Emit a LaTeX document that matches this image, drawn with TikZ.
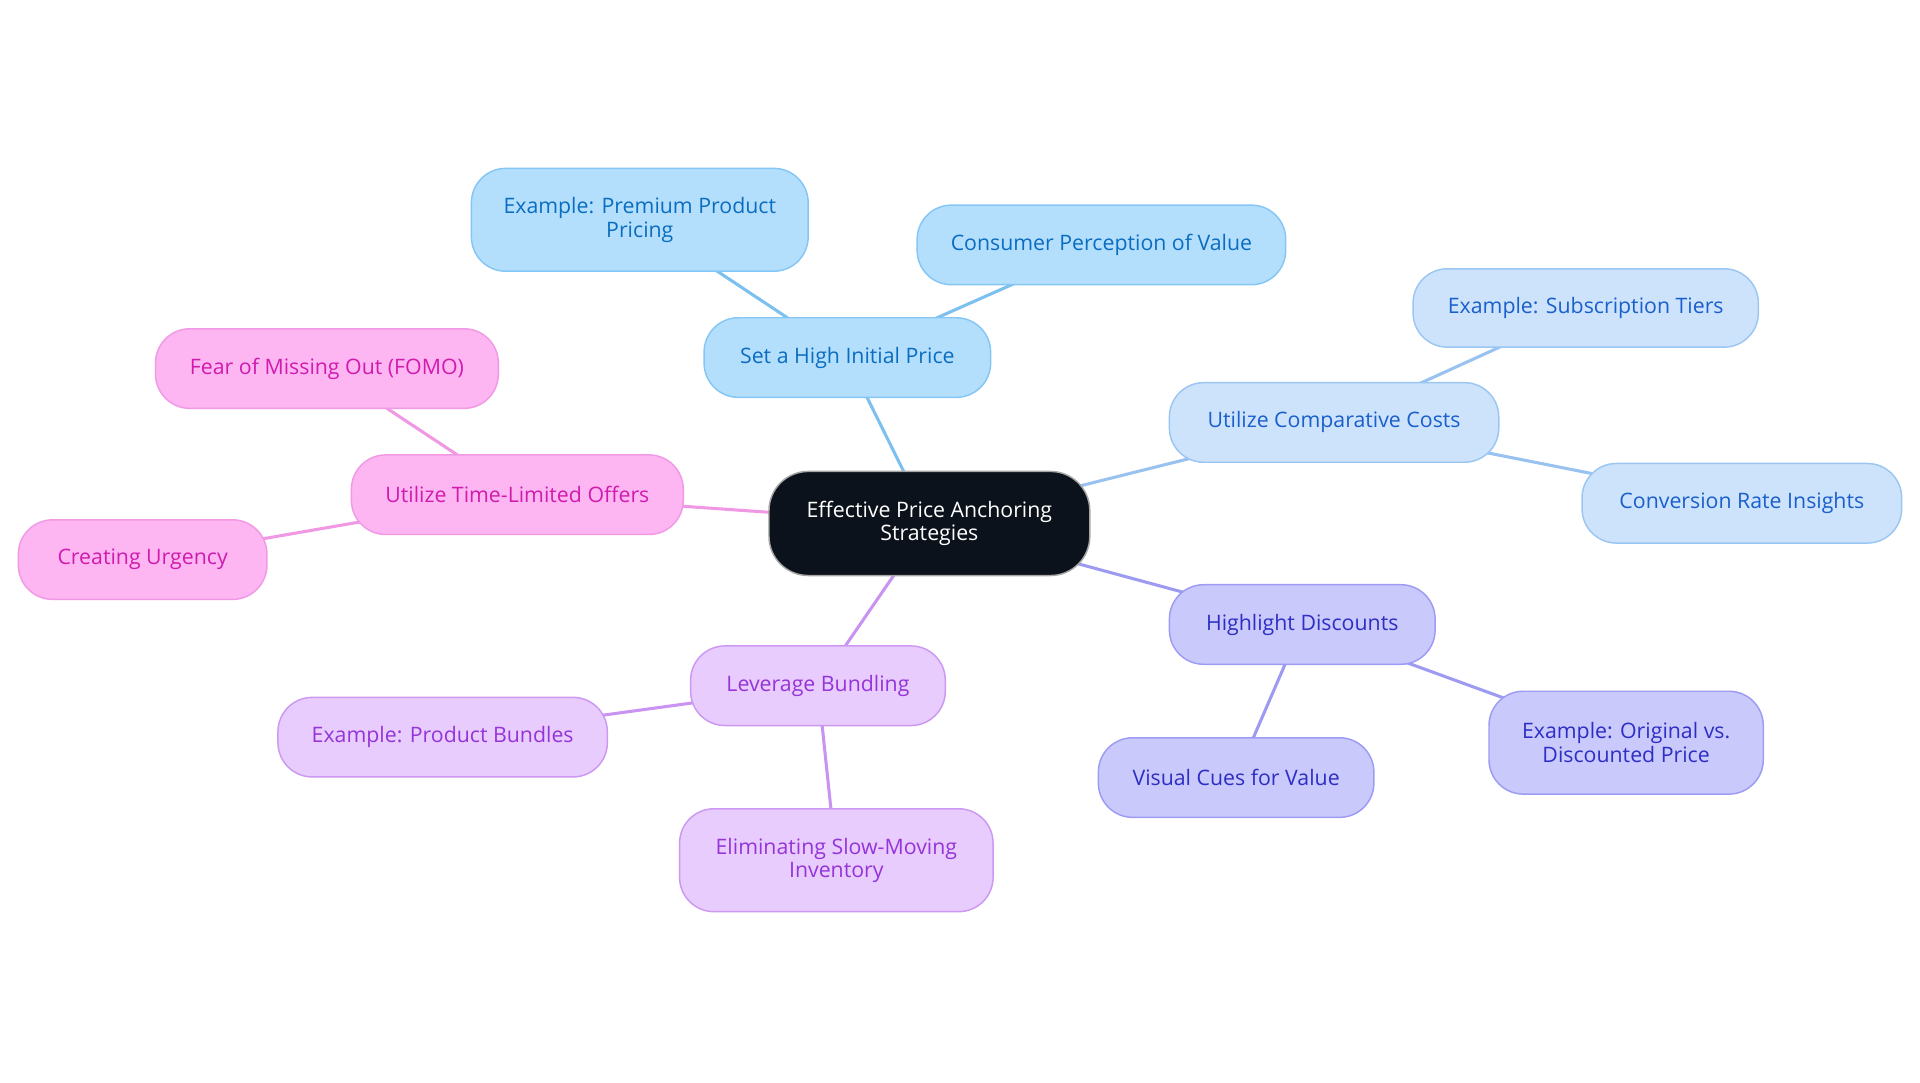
\documentclass[tikz,border=0pt]{standalone}
\usepackage{fontspec}
\setmainfont{Open Sans}
\usetikzlibrary{backgrounds}
\definecolor{bAf}{HTML}{B3DFFD}\definecolor{bAd}{HTML}{86C6F4}\definecolor{bAt}{HTML}{0B6DC0}\definecolor{bAe}{HTML}{7CC0F0}
\definecolor{bBf}{HTML}{CCE3FB}\definecolor{bBd}{HTML}{9CC6F2}\definecolor{bBt}{HTML}{1A5FCC}\definecolor{bBe}{HTML}{98C2F0}
\definecolor{lvf}{HTML}{C9C9FC}\definecolor{lvd}{HTML}{9D9BF3}\definecolor{lvt}{HTML}{2E2EC4}\definecolor{lve}{HTML}{9D9AF2}
\definecolor{puf}{HTML}{E8CCFD}\definecolor{pud}{HTML}{CD98F1}\definecolor{put}{HTML}{9534D8}\definecolor{pue}{HTML}{C993F2}
\definecolor{pkf}{HTML}{FDB6F2}\definecolor{pkd}{HTML}{F199E5}\definecolor{pkt}{HTML}{D01BAE}\definecolor{pke}{HTML}{F098E3}
\definecolor{ctrf}{HTML}{0C121B}
\tikzset{
  box/.style={rectangle, rounded corners=14pt, inner sep=0pt, align=center, line width=0.6pt,
    font=\fontsize{8.7}{9.6}\selectfont, minimum height=32.5pt},
  blueA/.style={box, fill=bAf, draw=bAd, text=bAt},
  blueB/.style={box, fill=bBf, draw=bBd, text=bBt},
  lav/.style={box, fill=lvf, draw=lvd, text=lvt},
  pur/.style={box, fill=puf, draw=pud, text=put},
  pink/.style={box, fill=pkf, draw=pkd, text=pkt},
  ctr/.style={box, rounded corners=16pt, fill=ctrf, draw=gray!70, text=white},
  edge/.style={line width=1.25pt},
}
\begin{document}
\begin{tikzpicture}[x=0.5pt,y=-0.5pt]
\useasboundingbox (0,0) rectangle (1568,884.4);
\node[ctr, minimum width=131pt, minimum height=42.5pt] (c) at (759,427.5) {Effective Price Anchoring\\Strategies};
\node[blueA, minimum width=117pt] (sh) at (692,292) {Set a High Initial Price};
\node[blueA, minimum width=137.5pt, minimum height=42pt] (pp) at (522.5,179.5) {Example: Premium Product\\Pricing};
\node[blueA, minimum width=150.5pt] (cp) at (899.5,200) {Consumer Perception of Value};
\node[blueB, minimum width=134.5pt] (cc) at (1089.5,345) {Utilize Comparative Costs};
\node[blueB, minimum width=141pt, minimum height=32pt] (st) at (1295,251.5) {Example: Subscription Tiers};
\node[blueB, minimum width=130.5pt] (cr) at (1422.5,411) {Conversion Rate Insights};
\node[lav, minimum width=108.5pt] (hd) at (1063.5,510) {Highlight Discounts};
\node[lav, minimum width=112.5pt] (vc) at (1009.5,635) {Visual Cues for Value};
\node[lav, minimum width=112pt, minimum height=42pt] (od) at (1328,606.5) {Example: Original vs.\\Discounted Price};
\node[pur, minimum width=104pt] (lb) at (668,560) {Leverage Bundling};
\node[pur, minimum width=134.5pt] (pb) at (361.5,602) {Example: Product Bundles};
\node[pur, minimum width=128pt, minimum height=42pt] (es) at (683,702.5) {Eliminating Slow-Moving\\Inventory};
\node[pink, minimum width=135.5pt] (tl) at (422.5,404) {Utilize Time-Limited Offers};
\node[pink, minimum width=140pt] (fo) at (267,301) {Fear of Missing Out (FOMO)};
\node[pink, minimum width=101.5pt] (cu) at (116.5,457) {Creating Urgency};
\begin{scope}[on background layer]
\draw[edge, bAe] (c.center) -- (sh.center);
\draw[edge, bAe] (sh.center) -- (pp.center);
\draw[edge, bAe] (sh.center) -- (cp.center);
\draw[edge, bBe] (c.center) -- (cc.center);
\draw[edge, bBe] (cc.center) -- (st.center);
\draw[edge, bBe] (cc.center) -- (cr.center);
\draw[edge, lve] (c.center) -- (hd.center);
\draw[edge, lve] (hd.center) -- (vc.center);
\draw[edge, lve] (hd.center) -- (od.center);
\draw[edge, pue] (c.center) -- (lb.center);
\draw[edge, pue] (lb.center) -- (pb.center);
\draw[edge, pue] (lb.center) -- (es.center);
\draw[edge, pke] (c.center) -- (tl.center);
\draw[edge, pke] (tl.center) -- (fo.center);
\draw[edge, pke] (tl.center) -- (cu.center);
\end{scope}
\end{tikzpicture}
\end{document}
